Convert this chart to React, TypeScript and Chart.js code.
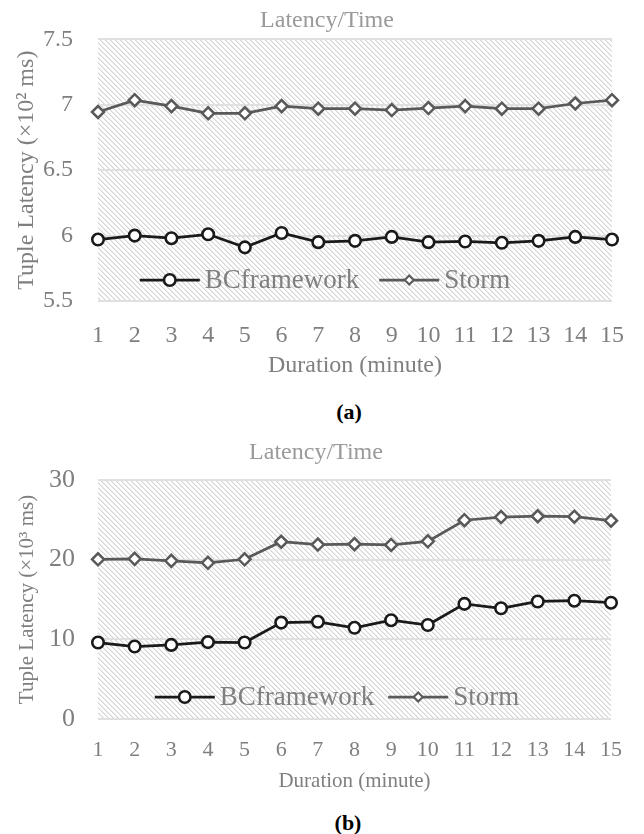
import React, { useEffect, useRef } from 'react';
import { Chart, registerables } from 'chart.js';

Chart.register(...registerables);

const FONT = "'Liberation Serif', 'Times New Roman', serif";

// ---------- data ----------
const durations = ['1', '2', '3', '4', '5', '6', '7', '8', '9', '10', '11', '12', '13', '14', '15'];
const seriesNames = ['BCframework', 'Storm'];

// (a) latency in x10^2 ms
const latencyA_BC = [5.97, 6.0, 5.98, 6.01, 5.91, 6.02, 5.95, 5.96, 5.99, 5.95, 5.955, 5.945, 5.96, 5.99, 5.97];
const latencyA_Storm = [6.945, 7.035, 6.99, 6.935, 6.935, 6.99, 6.97, 6.97, 6.96, 6.975, 6.99, 6.97, 6.97, 7.01, 7.035];

// (b) latency in x10^3 ms
const latencyB_BC = [9.6, 9.1, 9.3, 9.65, 9.6, 12.1, 12.2, 11.45, 12.4, 11.8, 14.45, 13.9, 14.75, 14.85, 14.6];
const latencyB_Storm = [20.05, 20.1, 19.85, 19.6, 20.05, 22.25, 21.9, 21.95, 21.85, 22.3, 24.95, 25.35, 25.45, 25.4, 24.9];

const titleText = 'Latency/Time';
const xTitle = 'Duration (minute)';
const yTitleA = 'Tuple Latency (×10² ms)';
const yTitleB = 'Tuple Latency (×10³ ms)';

const BC_COLOR = '#1a1a1a';
const STORM_COLOR = '#595959';
const TEXT_GRAY = '#7f7f7f';
const TITLE_GRAY = '#9a9a9a';

function makeHatch(ctx: CanvasRenderingContext2D) {
  const n = 5;
  const c = document.createElement('canvas');
  c.width = n;
  c.height = n;
  const g = c.getContext('2d')!;
  g.fillStyle = '#ffffff';
  g.fillRect(0, 0, n, n);
  for (let i = 0; i < n; i++) {
    g.fillStyle = '#d4d4d4';
    g.fillRect(i, i, 1, 1);
    g.fillStyle = '#eaeaea';
    g.fillRect((i + 1) % n, i, 1, 1);
  }
  return ctx.createPattern(c, 'repeat');
}

const hatchPlugin = {
  id: 'hatchBg',
  beforeDraw(chart: any) {
    const { ctx, chartArea } = chart;
    const pat = makeHatch(ctx);
    if (!pat) return;
    ctx.save();
    ctx.fillStyle = pat;
    ctx.fillRect(chartArea.left, chartArea.top, chartArea.right - chartArea.left, chartArea.bottom - chartArea.top);
    ctx.restore();
  },
};

const titlePlugin = {
  id: 'freeTitle',
  afterDraw(chart: any, _args: any, opts: any) {
    const { ctx } = chart;
    ctx.save();
    ctx.font = `${opts.size}px ${FONT}`;
    ctx.fillStyle = opts.color;
    ctx.textAlign = 'center';
    ctx.textBaseline = 'middle';
    ctx.fillText(opts.text, opts.x, opts.y);
    ctx.restore();
  },
};

const insideLegend = {
  id: 'insideLegend',
  afterDatasetsDraw(chart: any, _args: any, opts: any) {
    const { ctx, chartArea } = chart;
    const y = chartArea.bottom - opts.offsetY;
    ctx.save();
    ctx.font = `${opts.fontSize}px ${FONT}`;
    const items = chart.data.datasets.map((ds: any) => ({ ds, w: ctx.measureText(ds.label).width }));
    const lineLen = 60;
    const gapText = 5;
    const gapItem = opts.gapItem;
    const total =
      items.reduce((s: number, it: any) => s + lineLen + gapText + it.w, 0) + gapItem * (items.length - 1);
    let x = opts.centerX - total / 2;
    items.forEach((it: any) => {
      const ds = it.ds;
      ctx.strokeStyle = ds.borderColor;
      ctx.lineWidth = ds.borderWidth;
      ctx.beginPath();
      ctx.moveTo(x, y);
      ctx.lineTo(x + lineLen, y);
      ctx.stroke();
      const cx = x + lineLen / 2;
      ctx.fillStyle = '#ffffff';
      ctx.strokeStyle = ds.pointBorderColor;
      ctx.beginPath();
      if (ds.pointStyle === 'circle') {
        ctx.lineWidth = ds.pointBorderWidth;
        ctx.arc(cx, y, ds.pointRadius, 0, Math.PI * 2);
      } else {
        const r = 4.5;
        ctx.lineWidth = 2;
        ctx.moveTo(cx - r, y);
        ctx.lineTo(cx, y - r);
        ctx.lineTo(cx + r, y);
        ctx.lineTo(cx, y + r);
        ctx.closePath();
      }
      ctx.fill();
      ctx.stroke();
      ctx.fillStyle = TEXT_GRAY;
      ctx.textBaseline = 'middle';
      ctx.textAlign = 'left';
      ctx.fillText(ds.label, x + lineLen + gapText, y + 1);
      x += lineLen + gapText + it.w + gapItem;
    });
    ctx.restore();
  },
};

type PanelProps = {
  width: number;
  height: number;
  bc: number[];
  storm: number[];
  yMin: number;
  yMax: number;
  yStep: number;
  yTitle: string;
  yTitleSize: number;
  yTitlePad: number;
  yTickSize: number;
  yTickPad: number;
  xTickSize: number;
  xTickPad: number;
  xTitleSize: number;
  xTitlePad: number;
  xAxisHeight: number;
  padTop: number;
  padRight: number;
  titleX: number;
  titleY: number;
  legendCenterX: number;
  legendOffsetY: number;
  legendGap: number;
};

function LatencyPanel(p: PanelProps) {
  const ref = useRef<HTMLCanvasElement | null>(null);
  useEffect(() => {
    if (!ref.current) return;
    const chart = new Chart(ref.current, {
      type: 'line',
      data: {
        labels: durations,
        datasets: [
          {
            label: seriesNames[0],
            data: p.bc,
            borderColor: BC_COLOR,
            borderWidth: 2.75,
            pointStyle: 'circle',
            pointRadius: 5.75,
            pointBorderWidth: 2.6,
            pointBackgroundColor: '#ffffff',
            pointBorderColor: BC_COLOR,
            tension: 0,
          } as any,
          {
            label: seriesNames[1],
            data: p.storm,
            borderColor: STORM_COLOR,
            borderWidth: 2.75,
            pointStyle: 'rectRot',
            pointRadius: 6,
            pointBorderWidth: 2.5,
            pointBackgroundColor: '#ffffff',
            pointBorderColor: STORM_COLOR,
            tension: 0,
          } as any,
        ],
      },
      options: {
        responsive: false,
        animation: false,
        layout: { padding: { left: 0, right: p.padRight, top: p.padTop, bottom: 0 } },
        plugins: {
          legend: { display: false },
          tooltip: { enabled: false },
          title: { display: false },
          freeTitle: { text: titleText, x: p.titleX, y: p.titleY, size: 24, color: TITLE_GRAY },
          insideLegend: { centerX: p.legendCenterX, offsetY: p.legendOffsetY, fontSize: 27, gapItem: p.legendGap },
        } as any,
        scales: {
          x: {
            type: 'category',
            offset: false,
            grid: { display: false, drawTicks: false },
            border: { display: false },
            ticks: {
              color: TEXT_GRAY,
              font: { family: FONT, size: p.xTickSize },
              padding: p.xTickPad,
              maxRotation: 0,
              autoSkip: false,
            },
            title: {
              display: true,
              text: xTitle,
              color: TEXT_GRAY,
              font: { family: FONT, size: p.xTitleSize },
              padding: { top: 0, bottom: p.xTitlePad },
            },
            afterFit: (s: any) => {
              s.height = p.xAxisHeight;
            },
          },
          y: {
            min: p.yMin,
            max: p.yMax,
            grid: { color: '#e0e0e0', lineWidth: 2, drawTicks: false },
            border: { display: false },
            ticks: {
              stepSize: p.yStep,
              color: TEXT_GRAY,
              font: { family: FONT, size: p.yTickSize },
              padding: p.yTickPad,
              callback: (v: any) => String(v),
            },
            title: {
              display: true,
              text: p.yTitle,
              color: TEXT_GRAY,
              font: { family: FONT, size: p.yTitleSize },
              padding: { top: p.yTitlePad, bottom: 0 },
            },
            afterFit: (s: any) => {
              s.width = 98;
            },
          },
        },
      },
      plugins: [hatchPlugin, insideLegend, titlePlugin],
    } as any);
    return () => chart.destroy();
  }, []);
  return <canvas ref={ref} width={p.width} height={p.height} style={{ display: 'block' }} />;
}

const captionStyle: React.CSSProperties = {
  position: 'absolute',
  transform: 'translateX(-50%)',
  fontFamily: FONT,
  fontWeight: 'bold',
  fontSize: 22,
  lineHeight: '26px',
  height: 26,
  color: '#000',
  whiteSpace: 'nowrap',
};

export default function App() {
  return (
    <div style={{ position: 'absolute', left: 0, top: 0, width: 644, height: 834, background: '#fff' }}>
      <div style={{ position: 'absolute', left: 0, top: 0 }}>
        <LatencyPanel
          width={644}
          height={390}
          bc={latencyA_BC}
          storm={latencyA_Storm}
          yMin={5.5}
          yMax={7.5}
          yStep={0.5}
          yTitle={yTitleA}
          yTitleSize={24}
          yTitlePad={12}
          yTickSize={24}
          yTickPad={25}
          xTickSize={24}
          xTickPad={20}
          xTitleSize={24}
          xTitlePad={10}
          xAxisHeight={89}
          padTop={39}
          padRight={25}
          titleX={327}
          titleY={21}
          legendCenterX={325}
          legendOffsetY={21}
          legendGap={20}
        />
      </div>
      <div style={{ ...captionStyle, left: 349, top: 399 }}>(a)</div>
      <div style={{ position: 'absolute', left: 0, top: 430 }}>
        <LatencyPanel
          width={644}
          height={375}
          bc={latencyB_BC}
          storm={latencyB_Storm}
          yMin={0}
          yMax={30}
          yStep={10}
          yTitle={yTitleB}
          yTitleSize={21}
          yTitlePad={15}
          yTickSize={26}
          yTickPad={23}
          xTickSize={22}
          xTickPad={18}
          xTitleSize={21}
          xTitlePad={11}
          xAxisHeight={86}
          padTop={50}
          padRight={33}
          titleX={316}
          titleY={23}
          legendCenterX={337}
          legendOffsetY={22}
          legendGap={14}
        />
      </div>
      <div style={{ ...captionStyle, left: 348, top: 810 }}>(b)</div>
    </div>
  );
}
